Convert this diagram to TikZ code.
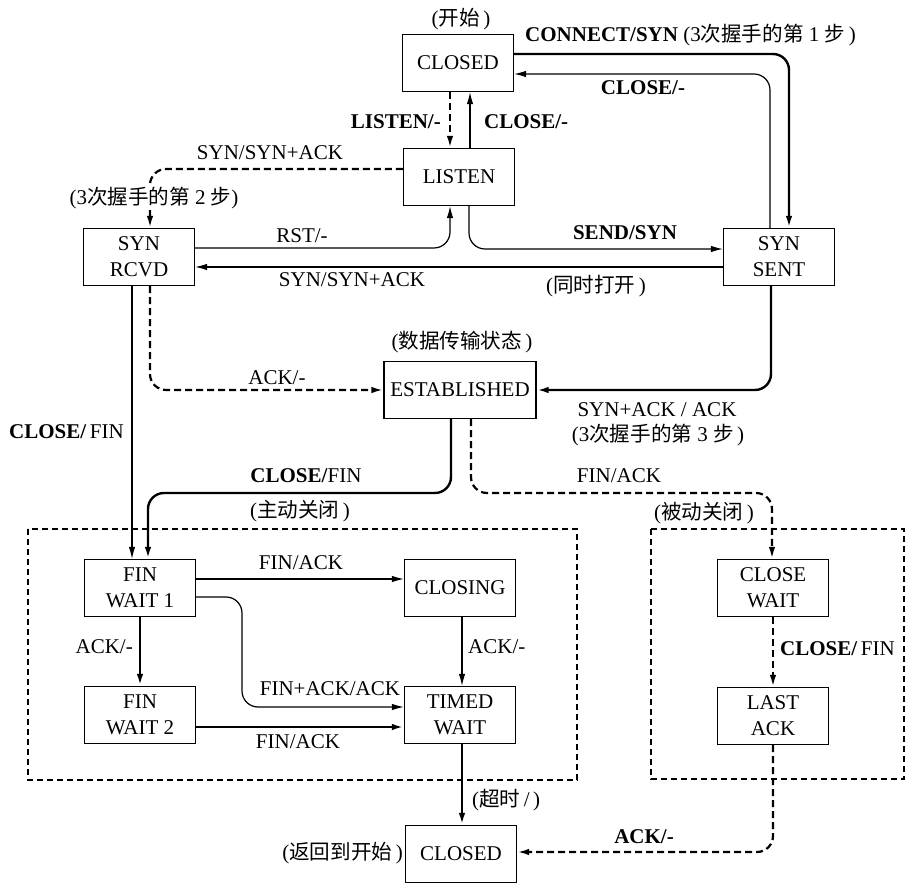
\documentclass[tikz,border=0pt]{standalone}
\usepackage{fontspec}
\setmainfont{Liberation Serif}
\newfontfamily\cjk[Scale=0.98]{Noto Sans CJK SC}
\newcommand\zh[1]{{\cjk #1}}
\usetikzlibrary{arrows.meta}

\tikzset{
  state/.style={draw, line width=1.2pt, minimum width=111pt, minimum height=57pt,
    align=center, inner sep=2pt},
  flow/.style={-{Latex[length=12pt,width=6.5pt]}, line width=1.2pt, rounded corners=16pt},
  heavy/.style={flow, line width=2.4pt},
  dashflow/.style={flow, line width=2.2pt, dash pattern=on 7pt off 4pt},
  region/.style={draw, line width=1.1pt, dash pattern=on 6pt off 4pt},
  lbl/.style={inner sep=1pt}
}

\begin{document}
\begin{tikzpicture}[x=1pt, y=-1pt, font=\fontsize{21}{26}\selectfont]
    \useasboundingbox (0,0) rectangle (914,890);

    % States
    \node[state] (closedT) at (458,63) {CLOSED};
    \node[state] (listen) at (459,177) {LISTEN};
    \node[state] (synrcvd) at (139,257) {SYN\\RCVD};
    \node[state] (synsent) at (779,257) {SYN\\SENT};
    \node[state, minimum width=152pt] (estab) at (460,390) {ESTABLISHED};
    \node[state] (fw1) at (140,588) {FIN\\WAIT 1};
    \node[state] (closing) at (460,588) {CLOSING};
    \node[state] (fw2) at (140,715) {FIN\\WAIT 2};
    \node[state] (timed) at (460,715) {TIMED\\WAIT};
    \node[state] (closewait) at (773,588) {CLOSE\\WAIT};
    \node[state] (lastack) at (773,716) {LAST\\ACK};
    \node[state] (closedB) at (461,854) {CLOSED};

    % Closing regions
    \draw[region] (28,529) rectangle (577,780);
    \draw[region] (651,529) rectangle (904,779);

    % Opening
    \draw[heavy] (closedT.east |- 0,54) -| (synsent.north -| 789,0);
    \draw[flow] (synsent.north -| 770,0) |- (closedT.east |- 0,74);
    \draw[dashflow] (closedT.south -| 450,0) -- (listen.north -| 450,0);
    \draw[flow] (listen.north -| 470,0) -- (closedT.south -| 470,0);
    \draw[dashflow] (listen.west |- 0,169) -| (synrcvd.north -| 150,0);
    \draw[flow] (synrcvd.east |- 0,248) -| (listen.south -| 450,0);
    \draw[flow] (listen.south -| 469,0) |- (synsent.west |- 0,249);
    \draw[flow] (synsent.west |- 0,267) -- (synrcvd.east |- 0,267);
    \draw[heavy] (synsent.south -| 771,0) |- (estab.east);
    \draw[dashflow] (synrcvd.south -| 150,0) |- (estab.west);

    % Closing
    \draw[flow] (synrcvd.south -| 132,0) -- (fw1.north -| 132,0);
    \draw[heavy] (estab.south -| 451,0) -- (451,493) -| (fw1.north -| 148,0);
    \draw[dashflow] (estab.south -| 471,0) -- (471,493) -| (closewait.north -| 772,0);
    \draw[flow] (fw1.east |- 0,579) -- (closing.west |- 0,579);
    \draw[flow] (fw1.east |- 0,597) -| (242,650) |- (timed.west |- 0,707);
    \draw[heavy] (fw1.south) -- (fw2.north);
    \draw[flow] (closing.south -| 462,0) -- (timed.north -| 462,0);
    \draw[heavy] (fw2.east |- 0,727) -- (timed.west |- 0,727);
    \draw[heavy] (timed.south -| 462,0) -- (closedB.north -| 462,0);
    \draw[dashflow] (closewait.south) -- (lastack.north);
    \draw[dashflow] (lastack.south) |- (closedB.east |- 0,852);

    % Labels
    \node[lbl] (lStart) at (461,19) {(\zh{开始}\,)};
    \node[lbl, anchor=west] (lConnect) at (524,35) {\textbf{CONNECT/SYN} (3\zh{次握手的第} 1 \zh{步}\,)};
    \node[lbl] (lCloseA) at (643,88) {\textbf{CLOSE/-}};
    \node[lbl, anchor=east] (lListen) at (442,122) {\textbf{LISTEN/-}};
    \node[lbl, anchor=west] (lCloseB) at (483,122) {\textbf{CLOSE/-}};
    \node[lbl] (lSynAckA) at (270,153) {SYN/SYN+ACK};
    \node[lbl, fill=white] (lStep2) at (154,198) {(3\zh{次握手的第} 2 \zh{步})};
    \node[lbl] (lRst) at (302,236) {RST/-};
    \node[lbl] (lSend) at (625,233) {\textbf{SEND/SYN}};
    \node[lbl] (lSynAckB) at (352,280) {SYN/SYN+ACK};
    \node[lbl] (lSimul) at (596,286) {(\zh{同时打开}\,)};
    \node[lbl] (lData) at (462,342) {(\zh{数据传输状态}\,)};
    \node[lbl] (lAckA) at (277,378) {ACK/-};
    \node[lbl] (lSynAckAck) at (657,410) {SYN+ACK / ACK};
    \node[lbl] (lStep3) at (658,435) {(3\zh{次握手的第} 3 \zh{步}\,)};
    \node[lbl, anchor=east] (lCloseFinL) at (125,432) {\textbf{CLOSE/}\,FIN};
    \node[lbl] (lCloseFinM) at (306,476) {\textbf{CLOSE/}FIN};
    \node[lbl] (lFinAckE) at (619,476) {FIN/ACK};
    \node[lbl] (lActive) at (300,511) {(\zh{主动关闭}\,)};
    \node[lbl] (lPassive) at (704,513) {(\zh{被动关闭}\,)};
    \node[lbl] (lFinAckA) at (301,563) {FIN/ACK};
    \node[lbl, anchor=east] (lAckL) at (134,647) {ACK/-};
    \node[lbl, anchor=west] (lAckR) at (467,647) {ACK/-};
    \node[lbl] (lFinAckAck) at (330,689) {FIN+ACK/ACK};
    \node[lbl] (lFinAckB) at (298,742) {FIN/ACK};
    \node[lbl, anchor=west] (lCloseFinR) at (779,649) {\textbf{CLOSE/}\,FIN};
    \node[lbl, anchor=west] (lTimeout) at (471,800) {(\zh{超时}\,/\,)};
    \node[lbl, anchor=east] (lBack) at (404,853) {(\zh{返回到开始}\,)};
    \node[lbl] (lAckB) at (644,837) {\textbf{ACK/-}};
\end{tikzpicture}
\end{document}
